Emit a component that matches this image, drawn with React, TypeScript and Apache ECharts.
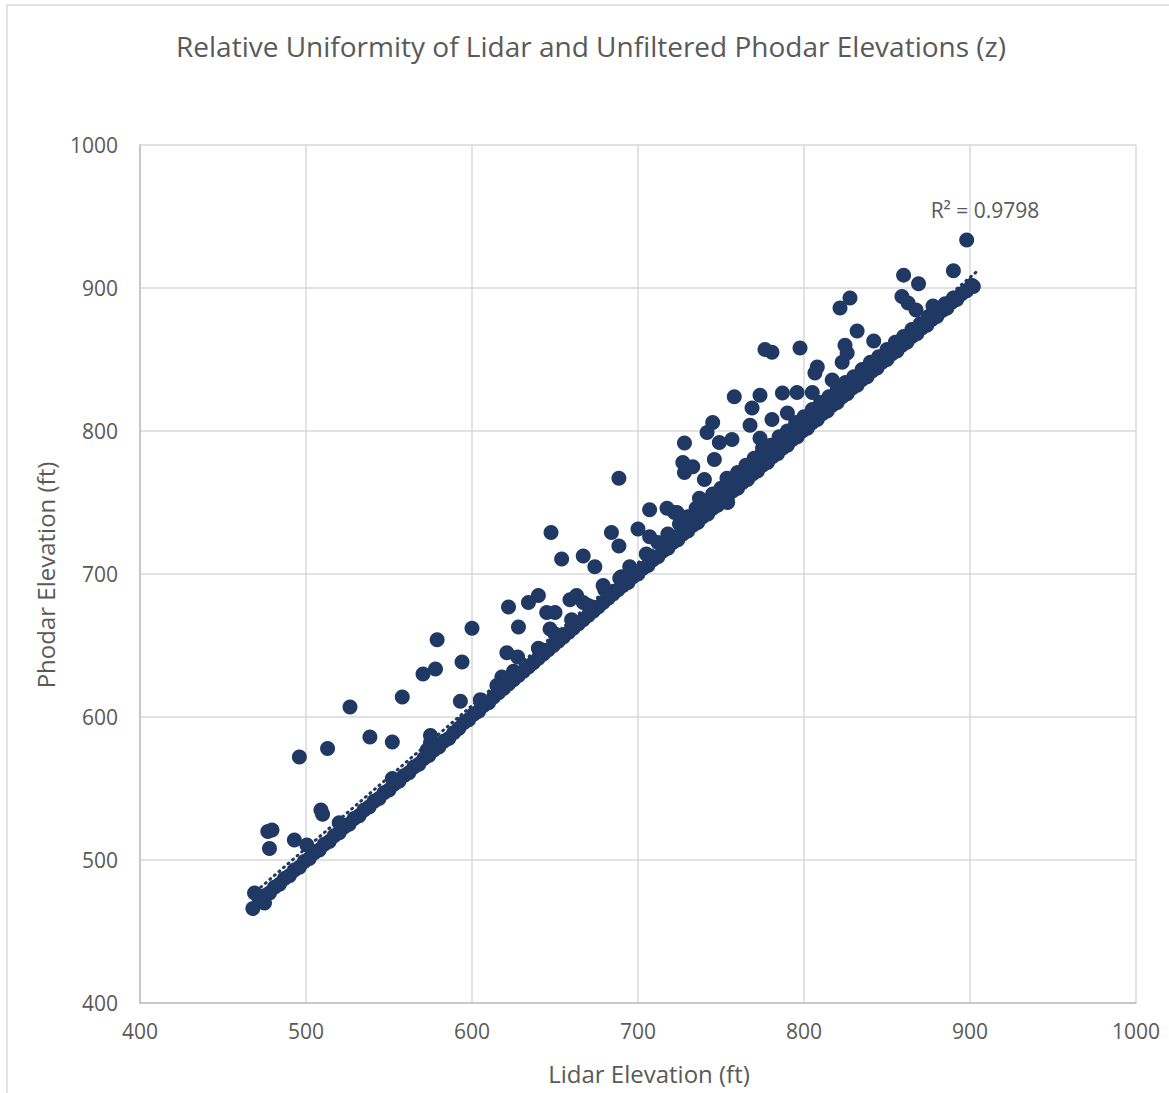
import React, { useEffect, useRef } from "react";
import * as echarts from "echarts";

const TITLE = "Relative Uniformity of Lidar and Unfiltered Phodar Elevations (z)";
const X_NAME = "Lidar Elevation (ft)";
const Y_NAME = "Phodar Elevation (ft)";
const R2_LABEL = "R² = 0.9798";

const AXIS_MIN = 400;
const AXIS_MAX = 1000;
const AXIS_STEP = 100;

// Main band of points (Lidar, Phodar) lying close to the 1:1 line
const BAND_POINTS: number[][] = [
  [472, 472], [475, 475], [478, 477], [481, 481], [484, 483], [487, 487], [490, 489], [493, 493],
  [496, 495], [499, 499], [502, 501], [505, 505], [508, 507], [511, 511], [514, 513], [517, 517],
  [520, 519], [523, 523], [526, 525], [529, 529], [532, 531], [535, 535], [538, 537], [541, 541],
  [544, 543], [547, 547], [550, 549], [553, 553], [556, 555], [559, 559], [562, 561], [565, 565],
  [568, 567], [571, 571], [574, 573], [577, 577], [580, 579], [583, 583], [586, 585], [589, 589],
  [592, 592], [595, 596], [598, 598], [601, 602], [604, 604], [607, 608], [610, 610], [613, 614],
  [616, 617], [619, 620], [622, 623], [625, 626], [628, 629], [631, 632], [634, 635], [637, 638],
  [640, 641], [643, 644], [646, 647], [649, 650], [652, 653], [655, 656], [658, 659], [661, 662],
  [664, 665], [667, 668], [670, 671], [673, 674], [676, 677], [679, 680], [682, 683], [685, 686],
  [688, 689], [691, 692], [694, 694], [697, 698], [700, 700], [703, 704], [706, 706], [709, 710],
  [712, 712], [715, 716], [718, 718], [721, 722], [724, 724], [727, 728], [730, 730], [733, 734],
  [736, 736], [739, 740], [742, 742], [745, 746], [748, 748], [751, 752], [754, 754], [757, 758],
  [760, 760], [763, 764], [766, 766], [769, 770], [772, 772], [775, 776], [778, 778], [781, 782],
  [784, 784], [787, 788], [790, 790], [793, 794], [796, 796], [799, 800], [802, 802], [805, 806],
  [808, 808], [811, 812], [814, 814], [817, 818], [820, 820], [823, 824], [826, 826], [829, 830],
  [832, 832], [835, 836], [838, 838], [841, 842], [844, 844], [847, 848], [850, 850], [853, 854],
  [856, 856], [859, 860], [862, 862], [865, 866], [868, 868], [871, 872], [874, 874], [877, 878],
  [880, 880], [883, 884], [886, 886], [889, 890], [892, 892], [895, 896], [898, 898], [901, 902],
];

// Points sitting just above the band
const UPPER_POINTS: number[][] = [
  [520, 526], [552, 557], [575, 582], [605, 612], [615, 622], [625, 632], [640, 648], [650, 658],
  [660, 668], [670, 678], [680, 689], [690, 698], [695, 705], [705, 714], [712, 722], [718, 728],
  [725, 735], [730, 740], [735, 746], [740, 751], [745, 756], [750, 760], [755, 765], [760, 771],
  [765, 776], [770, 781], [775, 785], [780, 790], [785, 796], [790, 800], [795, 806], [800, 810],
  [805, 815], [810, 820], [815, 824], [820, 829], [825, 834], [830, 838], [835, 843], [840, 848],
  [845, 852], [850, 857], [855, 862], [860, 866], [865, 871], [870, 875], [875, 880], [880, 884],
  [885, 889], [890, 893],
];

// Scattered outliers above the band
const OUTLIER_POINTS: number[][] = [
  [468, 466], [469, 477], [475, 470], [477, 520], [479.5, 521], [478, 508], [493, 514], [496, 572],
  [500.5, 510.5], [509, 535], [510, 532], [513, 578], [526.5, 607], [538.5, 586], [552, 582.5],
  [558, 614], [570.5, 630], [573, 577], [575, 587], [578, 633.5], [579, 654], [593, 611],
  [594, 638.5], [600, 662], [618, 628], [621, 645], [622, 677], [627.5, 642], [628, 663],
  [634, 680], [640, 685], [645, 673], [650, 673], [647, 661.5], [647.6, 729], [654, 710.5],
  [659, 682], [663, 685], [667, 680], [667, 712.6], [674, 705], [679, 692], [684, 729],
  [688.5, 767], [688.5, 719.6], [689, 697], [700, 731.5], [707, 745], [707, 726], [717.5, 746],
  [722, 743], [723.5, 743], [727, 778], [728, 791.6], [728, 771], [733, 775], [737, 753],
  [740, 766], [741.6, 799], [745, 806], [746, 780], [749, 792], [753.6, 767], [754, 750],
  [756.6, 794], [758, 824], [767.5, 804], [768.7, 816], [773.5, 825], [773.5, 795], [775, 788],
  [776.5, 857], [780.7, 855], [780.7, 808], [787, 826.6], [790, 812.6], [795.8, 827],
  [797.6, 858], [805, 827], [806.6, 840.6], [808, 844.7], [817, 835.7], [821.7, 886], [823, 848],
  [824.7, 860], [826, 854.5], [827.7, 893], [832, 870], [842, 863], [859, 894], [860, 909],
  [862.7, 889.5], [867.5, 884.6], [869, 903], [877.7, 887.4], [886, 886], [890, 912],
  [898, 933.6], [902, 901],
];

// Linear trendline
const TREND_X = [470, 904];
const TREND_SLOPE = 0.998;
const TREND_INTERCEPT = 9.2;

const MARK_COLOR = "#203864";
const TEXT_COLOR = "#595959";
const FONT = "'Open Sans', sans-serif";

export default function App() {
  const ref = useRef<HTMLDivElement>(null);

  useEffect(() => {
    if (!ref.current) return;
    const chart = echarts.init(ref.current, null, { renderer: "svg" });
    const allPoints = [...BAND_POINTS, ...UPPER_POINTS, ...OUTLIER_POINTS];
    const trend = TREND_X.map((x) => [x, TREND_SLOPE * x + TREND_INTERCEPT]);

    chart.setOption({
      animation: false,
      backgroundColor: "#ffffff",
      grid: { left: 140, right: 33, top: 145, bottom: 90 },
      xAxis: {
        type: "value",
        min: AXIS_MIN,
        max: AXIS_MAX,
        interval: AXIS_STEP,
        axisLine: { show: true, lineStyle: { color: "#bfbfbf", width: 1.5 } },
        axisTick: { show: false },
        axisLabel: {
          color: TEXT_COLOR,
          fontFamily: FONT,
          fontSize: 21,
          margin: 17,
          formatter: (v: number) => String(v),
        },
        splitLine: { show: true, lineStyle: { color: "#d9d9d9", width: 1.5 } },
      },
      yAxis: {
        type: "value",
        min: AXIS_MIN,
        max: AXIS_MAX,
        interval: AXIS_STEP,
        axisLine: { show: true, lineStyle: { color: "#bfbfbf", width: 1.5 } },
        axisTick: { show: false },
        axisLabel: {
          color: TEXT_COLOR,
          fontFamily: FONT,
          fontSize: 21,
          margin: 22,
          formatter: (v: number) => String(v),
        },
        splitLine: { show: true, lineStyle: { color: "#d9d9d9", width: 1.5 } },
      },
      graphic: [
        {
          type: "rect",
          silent: true,
          shape: { x: 7, y: 5, width: 1200, height: 1200 },
          style: { fill: "none", stroke: "#d9d9d9", lineWidth: 1.5 },
        },
        {
          type: "text",
          x: 591,
          y: 46,
          style: {
            text: TITLE,
            fill: TEXT_COLOR,
            font: `28px ${FONT}`,
            textAlign: "center",
            textVerticalAlign: "middle",
          },
        },
        {
          type: "text",
          x: 649,
          y: 1073,
          style: {
            text: X_NAME,
            fill: TEXT_COLOR,
            font: `24px ${FONT}`,
            textAlign: "center",
            textVerticalAlign: "middle",
          },
        },
        {
          type: "text",
          x: 45,
          y: 575,
          rotation: Math.PI / 2,
          style: {
            text: Y_NAME,
            fill: TEXT_COLOR,
            font: `24px ${FONT}`,
            textAlign: "center",
            textVerticalAlign: "middle",
          },
        },
        {
          type: "text",
          x: 985,
          y: 210,
          style: {
            text: R2_LABEL,
            fill: TEXT_COLOR,
            font: `21px ${FONT}`,
            textAlign: "center",
            textVerticalAlign: "middle",
          },
        },
      ],
      series: [
        {
          type: "scatter",
          data: allPoints,
          symbol: "circle",
          symbolSize: 15,
          itemStyle: { color: MARK_COLOR, opacity: 1 },
          z: 2,
        },
        {
          type: "line",
          data: trend,
          symbol: "none",
          lineStyle: { color: MARK_COLOR, width: 3, type: [1, 5], cap: "round" },
          z: 3,
        },
      ],
    });
    return () => chart.dispose();
  }, []);

  return (
    <div
      ref={ref}
      style={{ position: "fixed", left: 0, top: 0, width: 1169, height: 1093 }}
    />
  );
}
